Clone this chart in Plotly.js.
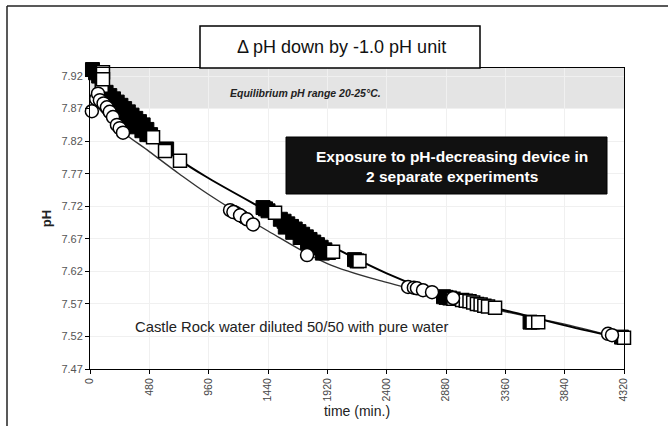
<!DOCTYPE html>
<html>
<head>
<meta charset="utf-8">
<script src="https://cdn.plot.ly/plotly-3.0.1.min.js"></script>
<style>html,body{margin:0;padding:0;background:#fff;}#chart{width:668px;height:432px;}</style>
</head>
<body>
<div id="chart"></div>
<script>
// Tick labels
const xTicks = [0, 480, 960, 1440, 1920, 2400, 2880, 3360, 3840, 4320];
const yTicks = [7.47, 7.52, 7.57, 7.62, 7.67, 7.72, 7.77, 7.82, 7.87, 7.92];
const yTickText = ["7.47", "7.52", "7.57", "7.62", "7.67", "7.72", "7.77", "7.82", "7.87", "7.92"];

// Experiment 1 (squares) - densely logged readings (drawn filled)
const sqDenseTime = [20, 45, 70, 130, 160, 190, 220, 250, 280, 310, 340, 370, 400, 430, 460, 490,
  180, 220, 260, 300, 340, 380, 420, 460, 620,
  1400, 1420, 1440, 1540, 1570, 1600, 1630, 1660, 1690, 1720, 1750, 1780, 1810, 1840, 1870, 1900, 1930,
  1580, 1640, 1700, 1760, 1820, 1880,
  2140, 2160, 2860, 2880, 2910, 3560, 4300];
const sqDensePH = [7.930, 7.925, 7.920, 7.895, 7.890, 7.885, 7.880, 7.875, 7.870, 7.865, 7.860, 7.855, 7.850, 7.845, 7.838, 7.830,
  7.868, 7.862, 7.857, 7.852, 7.847, 7.842, 7.836, 7.830, 7.808,
  7.718, 7.716, 7.713, 7.700, 7.697, 7.693, 7.689, 7.685, 7.681, 7.677, 7.673, 7.669, 7.665, 7.661, 7.657, 7.653, 7.649,
  7.688, 7.680, 7.672, 7.664, 7.656, 7.648,
  7.638, 7.636, 7.581, 7.580, 7.579, 7.542, 7.519];
// Experiment 1 (squares) - open markers
const sqTime = [95, 105, 105, 510, 607, 728, 1497, 1966, 2180, 2940, 3010, 3040, 3070, 3100, 3130, 3160, 3190, 3220, 3277, 3580, 3626, 4320];
const sqPH = [7.905, 7.926, 7.915, 7.826, 7.805, 7.790, 7.710, 7.650, 7.636, 7.578, 7.576, 7.575, 7.574, 7.572, 7.570, 7.569, 7.567, 7.566, 7.564, 7.542, 7.542, 7.518];
// Experiment 1 trend line
const sqFitTime = [0, 240, 480, 720, 960, 1440, 1920, 2400, 2880, 3360, 3840, 4320];
const sqFitPH = [7.930, 7.870, 7.830, 7.792, 7.763, 7.712, 7.662, 7.617, 7.582, 7.560, 7.537, 7.516];

// Experiment 2 (circles) - open markers
const ciTime = [15, 50, 65, 80, 110, 137, 160, 186, 218, 240, 267, 1133, 1160, 1214, 1270, 1319, 1756, 2573, 2620, 2645, 2694, 2767, 2937, 4191, 4223];
const ciPH = [7.866, 7.885, 7.893, 7.883, 7.878, 7.872, 7.865, 7.857, 7.845, 7.840, 7.833, 7.714, 7.711, 7.706, 7.700, 7.692, 7.645, 7.596, 7.595, 7.594, 7.591, 7.588, 7.579, 7.524, 7.522];
// Experiment 2 - densely logged readings (drawn filled)
const ciDenseTime = [100, 150, 1170, 1190, 1240];
const ciDensePH = [7.880, 7.868, 7.711, 7.709, 7.703];
// Experiment 2 trend line
const ciFitTime = [0, 240, 480, 720, 960, 1440, 1920, 2400, 2880, 3360, 3840, 4320];
const ciFitPH = [7.885, 7.838, 7.804, 7.770, 7.738, 7.682, 7.632, 7.603, 7.580, 7.558, 7.539, 7.516];

// pixel -> paper helpers (plot area: x 90..624, y 68..369)
const PL = 90, PR = 624, PT = 68, PB = 369;
const px = v => (v - PL) / (PR - PL);
const py = v => (PB - v) / (PB - PT);

const traces = [
  {x: ciFitTime, y: ciFitPH, mode: 'lines', line: {color: '#333', width: 1.4, shape: 'spline'}, hoverinfo: 'skip'},
  {x: sqFitTime, y: sqFitPH, mode: 'lines', line: {color: '#000', width: 2, shape: 'spline'}, hoverinfo: 'skip'},
  {x: sqDenseTime, y: sqDensePH, mode: 'markers', cliponaxis: false,
   marker: {symbol: 'square', size: 14, color: '#000', line: {color: '#000', width: 1}}},
  {x: ciDenseTime, y: ciDensePH, mode: 'markers', cliponaxis: false,
   marker: {symbol: 'circle', size: 13, color: '#000', line: {color: '#000', width: 1}}},
  {x: sqTime, y: sqPH, mode: 'markers', cliponaxis: false,
   marker: {symbol: 'square', size: 13, color: '#fff', line: {color: '#000', width: 1.5}}},
  {x: ciTime, y: ciPH, mode: 'markers', cliponaxis: false,
   marker: {symbol: 'circle', size: 13, color: '#fff', line: {color: '#000', width: 1.5}}}
];

const layout = {
  width: 668, height: 432,
  margin: {l: PL, r: 668 - PR, t: PT, b: 432 - PB},
  paper_bgcolor: '#fff', plot_bgcolor: '#fff',
  showlegend: false,
  font: {family: 'Liberation Sans, Arial, sans-serif', color: '#222'},
  xaxis: {
    range: [0, 4320], tickvals: xTicks, ticktext: xTicks.map(String), tickangle: -90,
    ticks: 'outside', ticklen: 4, tickcolor: '#000', tickfont: {size: 10.5, color: '#444'},
    showline: true, linecolor: '#000', linewidth: 1, mirror: true,
    showgrid: true, gridcolor: '#f0f0f0', zeroline: false,
    title: {text: 'time (min.)', font: {size: 14, color: '#222'}, standoff: 5}
  },
  yaxis: {
    range: [7.47, 7.47 + (PB - PT) / 651], tickvals: yTicks, ticktext: yTickText,
    ticks: 'outside', ticklen: 4, tickcolor: '#000', tickfont: {size: 11, color: '#555'},
    showline: true, linecolor: '#000', linewidth: 1, mirror: true,
    showgrid: true, gridcolor: '#f0f0f0', zeroline: false,
    title: {text: '<b>pH</b>', font: {size: 13, color: '#222'}, standoff: 6}
  },
  shapes: [
    // equilibrium band
    {type: 'rect', xref: 'x', yref: 'paper', x0: 0, x1: 4320, y0: py(108), y1: 1,
     fillcolor: '#e4e4e4', line: {width: 0}, layer: 'below'},
    // title box
    {type: 'rect', xref: 'paper', yref: 'paper', x0: px(200), x1: px(480), y0: py(68), y1: py(26),
     fillcolor: '#fff', line: {color: '#000', width: 1.5}},
    // black label box
    {type: 'rect', xref: 'paper', yref: 'paper', x0: px(286), x1: px(607), y0: py(194), y1: py(137),
     fillcolor: '#111', line: {color: '#000', width: 1}},
    // outer frame (scan edges)
    {type: 'line', xref: 'paper', yref: 'paper', x0: px(7), x1: px(668), y0: py(6), y1: py(6), line: {color: '#222', width: 1.5}},
    {type: 'line', xref: 'paper', yref: 'paper', x0: px(7), x1: px(7), y0: py(6), y1: py(426), line: {color: '#222', width: 1.5}}
  ],
  annotations: [
    {xref: 'paper', yref: 'paper', x: px(341), y: py(47), text: 'Δ pH down by -1.0 pH unit', showarrow: false,
     font: {size: 18, color: '#111'}, xanchor: 'center', yanchor: 'middle'},
    {xref: 'paper', yref: 'paper', x: px(305), y: py(93), text: '<b><i>Equilibrium pH range 20-25°C.</i></b>', showarrow: false,
     font: {size: 10.5, color: '#222'}, xanchor: 'center', yanchor: 'middle'},
    {xref: 'paper', yref: 'paper', x: px(452), y: py(156), text: '<b>Exposure to pH-decreasing device in</b>', showarrow: false,
     font: {size: 15.5, color: '#fff'}, xanchor: 'center', yanchor: 'middle'},
    {xref: 'paper', yref: 'paper', x: px(452), y: py(176), text: '<b>2 separate experiments</b>', showarrow: false,
     font: {size: 15.5, color: '#fff'}, xanchor: 'center', yanchor: 'middle'},
    {xref: 'paper', yref: 'paper', x: px(133), y: py(327), text: 'Castle Rock water diluted 50/50 with pure water', showarrow: false,
     font: {size: 14.8, color: '#222'}, xanchor: 'left', yanchor: 'middle'}
  ]
};

Plotly.newPlot('chart', traces, layout, {displayModeBar: false, staticPlot: true});
</script>
</body>
</html>
